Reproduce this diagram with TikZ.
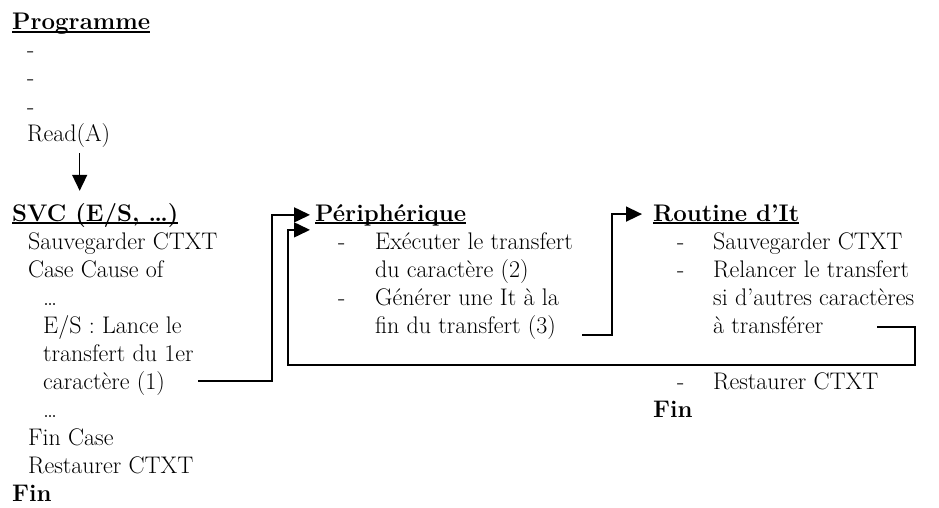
\documentclass[tikz,border=0pt]{standalone}
\usetikzlibrary{arrows.meta}
% bold heading with an underline that runs through the descenders
\newsavebox\ulbox
\newcommand\ulbf[1]{\sbox\ulbox{\bfseries #1}\rlap{\usebox\ulbox}\rule[-2.8pt]{\wd\ulbox}{1.4pt}}
\begin{document}
\begin{tikzpicture}[x=1pt,y=-1pt,
  every node/.style={inner sep=0pt, anchor=base west, font=\fontsize{24}{28}\selectfont},
  link/.style={line width=1.5pt},
  arr/.style={link, -{Triangle[length=16pt,width=15pt]}}]
\useasboundingbox (0,0) rectangle (939,508);

% --- Programme ---
\node (prog) at (12,30)  {\ulbf{Programme}};
\node (pd1)  at (27,58)  {-};
\node (pd2)  at (27,86)  {-};
\node (pd3)  at (27,114) {-};
\node (read) at (27,142) {Read(A)};

% --- SVC ---
\node (svc) at (12,221) {\ulbf{SVC (E/S, …)}};
\node (s1)  at (28,249) {Sauvegarder CTXT};
\node (s2)  at (28,277) {Case Cause of};
\node (s3)  at (43,305) {…};
\node (s4)  at (43,333) {E/S : Lance le};
\node (s5)  at (43,361) {transfert du 1er};
\node (s6)  at (43,389) {caractère (1)};
\node (s7)  at (43,417) {…};
\node (s8)  at (28,445) {Fin Case};
\node (s9)  at (28,473) {Restaurer CTXT};
\node (s10) at (12,501) {\bfseries Fin};

% --- Peripherique ---
\node (p0)  at (315,221) {\ulbf{Périphérique}};
\node (p1h) at (338,249) {-};
\node (p1)  at (375,249) {Exécuter le transfert};
\node (p2)  at (375,277) {du caractère (2)};
\node (p3h) at (338,305) {-};
\node (p3)  at (375,305) {Générer une It à la};
\node (p4)  at (375,333) {fin du transfert (3)};

% --- Routine d'It ---
\node (r0)  at (653,221) {\ulbf{Routine d’It}};
\node (r1h) at (677,249) {-};
\node (r1)  at (713,249) {Sauvegarder CTXT};
\node (r2h) at (677,277) {-};
\node (r2)  at (713,277) {Relancer le transfert};
\node (r3)  at (713,305) {si d’autres caractères};
\node (r4)  at (713,333) {à transférer};
\node (r5h) at (677,389) {-};
\node (r5)  at (713,389) {Restaurer CTXT};
\node (r6)  at (653,417) {\bfseries Fin};

% --- connectors ---
% Read(A) -> SVC
\coordinate (ra) at ([xshift=11pt,yshift=-5pt]read.south);
\coordinate (rb) at (ra |- svc.north);
\draw[arr] (ra) -- ([yshift=12pt]rb);

% SVC launches the transfer -> Peripherique
\coordinate (c1s) at (198,381);
\draw[arr] (c1s) -| ([xshift=-43pt]p0.west) -- ([xshift=-5pt]p0.west);

% Peripherique raises the interrupt -> Routine d'It
\coordinate (c3s) at (582,335);
\draw[arr] (c3s) -| ([xshift=-41pt]r0.west) -- ([xshift=-11pt]r0.west);

% Routine d'It relaunches the transfer -> Peripherique
\coordinate (c2s)  at (877,327);
\coordinate (rc)   at (915,365);
\coordinate (back) at ([xshift=-27pt,yshift=-15pt]p0.west);
\draw[arr] (c2s) -| (rc) -- (rc -| back) |- ([xshift=-5pt,yshift=-15pt]p0.west);
\end{tikzpicture}
\end{document}
